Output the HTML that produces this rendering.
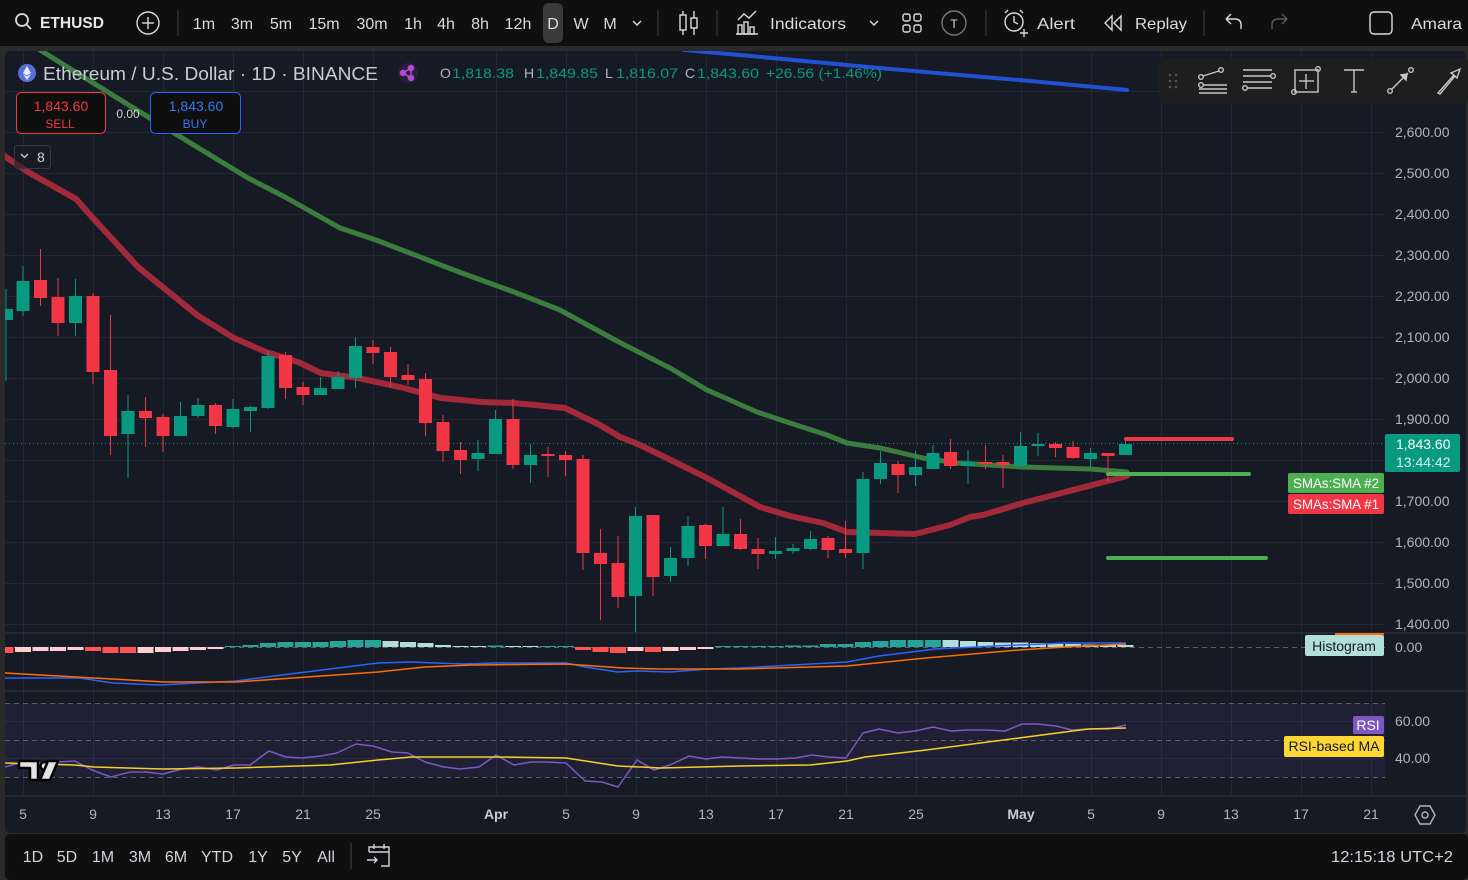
<!DOCTYPE html>
<html><head><meta charset="utf-8"><style>
html,body{margin:0;padding:0;background:#2a2a2a;width:1468px;height:880px;overflow:hidden}
svg{display:block}
text{font-family:"Liberation Sans",sans-serif}
</style></head><body>
<svg width="1468" height="880" viewBox="0 0 1468 880" xmlns="http://www.w3.org/2000/svg">
<defs>
<clipPath id="pane"><rect x="5" y="51" width="1380" height="582"/></clipPath>
<clipPath id="all"><rect x="5" y="51" width="1380" height="745"/></clipPath>
</defs>
<rect x="0" y="0" width="1468" height="880" fill="#2a2a2a"/>
<rect x="0" y="0" width="1468" height="46" fill="#0f0f0f"/>
<rect x="5" y="51" width="1461" height="782" rx="5" fill="#161a25"/>
<rect x="5" y="834" width="1463" height="46" rx="5" fill="#0f0f0f"/>

<!-- grid -->
<g stroke="#232733" stroke-width="1">
<line x1="5" y1="91.5" x2="1385" y2="91.5"/><line x1="5" y1="132.5" x2="1385" y2="132.5"/><line x1="5" y1="173.5" x2="1385" y2="173.5"/><line x1="5" y1="214.5" x2="1385" y2="214.5"/><line x1="5" y1="255.5" x2="1385" y2="255.5"/><line x1="5" y1="296.5" x2="1385" y2="296.5"/><line x1="5" y1="337.5" x2="1385" y2="337.5"/><line x1="5" y1="378.5" x2="1385" y2="378.5"/><line x1="5" y1="419.5" x2="1385" y2="419.5"/><line x1="5" y1="460.5" x2="1385" y2="460.5"/><line x1="5" y1="501.5" x2="1385" y2="501.5"/><line x1="5" y1="542.5" x2="1385" y2="542.5"/><line x1="5" y1="583.5" x2="1385" y2="583.5"/><line x1="5" y1="624.5" x2="1385" y2="624.5"/>
<line x1="5" y1="721.5" x2="1385" y2="721.5"/><line x1="5" y1="758.5" x2="1385" y2="758.5"/>
<line x1="23.5" y1="51" x2="23.5" y2="796"/><line x1="93.5" y1="51" x2="93.5" y2="796"/><line x1="163.5" y1="51" x2="163.5" y2="796"/><line x1="233.5" y1="51" x2="233.5" y2="796"/><line x1="303.5" y1="51" x2="303.5" y2="796"/><line x1="373.5" y1="51" x2="373.5" y2="796"/><line x1="496.5" y1="51" x2="496.5" y2="796"/><line x1="566.5" y1="51" x2="566.5" y2="796"/><line x1="636.5" y1="51" x2="636.5" y2="796"/><line x1="706.5" y1="51" x2="706.5" y2="796"/><line x1="776.5" y1="51" x2="776.5" y2="796"/><line x1="846.5" y1="51" x2="846.5" y2="796"/><line x1="916.5" y1="51" x2="916.5" y2="796"/><line x1="1021.5" y1="51" x2="1021.5" y2="796"/><line x1="1091.5" y1="51" x2="1091.5" y2="796"/><line x1="1161.5" y1="51" x2="1161.5" y2="796"/><line x1="1231.5" y1="51" x2="1231.5" y2="796"/><line x1="1301.5" y1="51" x2="1301.5" y2="796"/><line x1="1371.5" y1="51" x2="1371.5" y2="796"/>
</g>
<!-- pane separators -->
<g stroke="#2a2e39" stroke-width="1.5">
<line x1="5" y1="633" x2="1466" y2="633"/><line x1="5" y1="691" x2="1466" y2="691"/><line x1="5" y1="796" x2="1466" y2="796"/>
</g>

<!-- RSI band -->
<rect x="5" y="703" width="1380" height="74" fill="#7e57c2" fill-opacity="0.1"/>
<g stroke="#5d606b" stroke-dasharray="5,4" stroke-width="1">
<line x1="5" y1="703.5" x2="1385" y2="703.5"/><line x1="5" y1="740.5" x2="1385" y2="740.5"/><line x1="5" y1="777.5" x2="1385" y2="777.5"/>
<line x1="5" y1="647.5" x2="1385" y2="647.5"/>
</g>

<g clip-path="url(#pane)">
<!-- SMA lines -->
<polyline fill="none" stroke="#2151d3" stroke-width="4" stroke-linecap="round" stroke-linejoin="round" points="684,50 740,55 879,68 1019,80 1127,90"/>
<polyline fill="none" stroke="#3a7d3d" stroke-width="5" stroke-linecap="round" stroke-linejoin="round" points="40,50 174,133 248,178 285,197 340,228 376,240 459,272 514,292 560,310 615,340 670,368 707,390 723,397 757,412 790,423 827,435 847,443 880,448 923,458 957,463 1023,467 1090,469 1127,472"/>
<polyline fill="none" stroke="#a2293a" stroke-width="6" stroke-linecap="round" stroke-linejoin="round" points="3,155 28,172 60,190 76,199 92,217 138,267 197,315 234,338 266,352 298,362 321,373 358,378 404,388 441,398 482,402 514,403 565,408 600,425 620,437 640,445 687,468 707,478 760,507 790,516 823,523 847,532 915,534 950,525 970,517 983,515 1023,503 1073,490 1127,476"/>

<!-- green candles -->
<g fill="#089981">
<rect x="5" y="309" width="8" height="11"/><rect x="5.5" y="289" width="1" height="92"/>
<rect x="16.5" y="281" width="13" height="30"/><rect x="22.5" y="266" width="1" height="50"/>
<rect x="69" y="296" width="13" height="27"/><rect x="75" y="279" width="1" height="57"/>
<rect x="121.5" y="411" width="13" height="23"/><rect x="127.5" y="395" width="1" height="83"/>
<rect x="174" y="416" width="13" height="20"/><rect x="180" y="402" width="1" height="34"/>
<rect x="191.5" y="405" width="13" height="11"/><rect x="197.5" y="398" width="1" height="20"/>
<rect x="226.5" y="409" width="13" height="18"/><rect x="232.5" y="399" width="1" height="29"/>
<rect x="244" y="407" width="13" height="4"/><rect x="250" y="406" width="1" height="26"/>
<rect x="261.5" y="356" width="13" height="52"/><rect x="267.5" y="351" width="1" height="58"/>
<rect x="314" y="388" width="13" height="7"/><rect x="320" y="377" width="1" height="18"/>
<rect x="331.5" y="377" width="13" height="12"/><rect x="337.5" y="371" width="1" height="18"/>
<rect x="349" y="346" width="13" height="32"/><rect x="355" y="337" width="1" height="51"/>
<rect x="471.5" y="453" width="13" height="6"/><rect x="477.5" y="440" width="1" height="31"/>
<rect x="489" y="419" width="13" height="35"/><rect x="495" y="410" width="1" height="44"/>
<rect x="524" y="455" width="13" height="10"/><rect x="530" y="444" width="1" height="39"/>
<rect x="629" y="516" width="13" height="80"/><rect x="635" y="507" width="1" height="125"/>
<rect x="664" y="558" width="13" height="18"/><rect x="670" y="547" width="1" height="35"/>
<rect x="681.5" y="526" width="13" height="32"/><rect x="687.5" y="516" width="1" height="50"/>
<rect x="716.5" y="534" width="13" height="12"/><rect x="722.5" y="507" width="1" height="39"/>
<rect x="769" y="551" width="13" height="3"/><rect x="775" y="537" width="1" height="22"/>
<rect x="786.5" y="548" width="13" height="3"/><rect x="792.5" y="544" width="1" height="10"/>
<rect x="804" y="539" width="13" height="10"/><rect x="810" y="531" width="1" height="19"/>
<rect x="856.5" y="479" width="13" height="74"/><rect x="862.5" y="472" width="1" height="97"/>
<rect x="874" y="463" width="13" height="16"/><rect x="880" y="451" width="1" height="33"/>
<rect x="909" y="467" width="13" height="8"/><rect x="915" y="451" width="1" height="35"/>
<rect x="926.5" y="453" width="13" height="16"/><rect x="932.5" y="445" width="1" height="24"/>
<rect x="961.5" y="462" width="13" height="4"/><rect x="967.5" y="450" width="1" height="34"/>
<rect x="1014" y="446" width="13" height="20"/><rect x="1020" y="432" width="1" height="34"/>
<rect x="1031.5" y="444" width="13" height="2"/><rect x="1037.5" y="433" width="1" height="23"/>
<rect x="1084" y="453" width="13" height="6"/><rect x="1090" y="448" width="1" height="20"/>
<rect x="1119" y="444" width="13" height="11"/><rect x="1125" y="440" width="1" height="15"/>
</g>
<!-- red candles -->
<g fill="#f23645">
<rect x="34" y="280" width="13" height="18"/><rect x="40" y="249" width="1" height="57"/>
<rect x="51.5" y="297" width="13" height="26"/><rect x="57.5" y="278" width="1" height="58"/>
<rect x="86.5" y="296" width="13" height="76"/><rect x="92.5" y="293" width="1" height="91"/>
<rect x="104" y="370" width="13" height="66"/><rect x="110" y="315" width="1" height="140"/>
<rect x="139" y="411" width="13" height="7"/><rect x="145" y="397" width="1" height="50"/>
<rect x="156.5" y="417" width="13" height="19"/><rect x="162.5" y="414" width="1" height="38"/>
<rect x="209" y="405" width="13" height="21"/><rect x="215" y="403" width="1" height="31"/>
<rect x="279" y="355" width="13" height="33"/><rect x="285" y="352" width="1" height="47"/>
<rect x="296.5" y="387" width="13" height="8"/><rect x="302.5" y="382" width="1" height="23"/>
<rect x="366.5" y="347" width="13" height="6"/><rect x="372.5" y="340" width="1" height="24"/>
<rect x="384" y="352" width="13" height="25"/><rect x="390" y="347" width="1" height="40"/>
<rect x="401.5" y="375" width="13" height="5"/><rect x="407.5" y="364" width="1" height="21"/>
<rect x="419" y="379" width="13" height="44"/><rect x="425" y="373" width="1" height="63"/>
<rect x="436.5" y="422" width="13" height="29"/><rect x="442.5" y="415" width="1" height="47"/>
<rect x="454" y="450" width="13" height="10"/><rect x="460" y="442" width="1" height="32"/>
<rect x="506.5" y="419" width="13" height="46"/><rect x="512.5" y="399" width="1" height="70"/>
<rect x="541.5" y="454" width="13" height="2"/><rect x="547.5" y="447" width="1" height="30"/>
<rect x="559" y="455" width="13" height="5"/><rect x="565" y="451" width="1" height="25"/>
<rect x="576.5" y="459" width="13" height="94"/><rect x="582.5" y="455" width="1" height="115"/>
<rect x="594" y="553" width="13" height="11"/><rect x="600" y="529" width="1" height="91"/>
<rect x="611.5" y="563" width="13" height="34"/><rect x="617.5" y="536" width="1" height="72"/>
<rect x="646.5" y="515" width="13" height="62"/><rect x="652.5" y="515" width="1" height="81"/>
<rect x="699" y="525" width="13" height="21"/><rect x="705" y="524" width="1" height="35"/>
<rect x="734" y="534" width="13" height="15"/><rect x="740" y="519" width="1" height="31"/>
<rect x="751.5" y="549" width="13" height="5"/><rect x="757.5" y="538" width="1" height="31"/>
<rect x="821.5" y="538" width="13" height="12"/><rect x="827.5" y="536" width="1" height="22"/>
<rect x="839" y="549" width="13" height="4"/><rect x="845" y="521" width="1" height="37"/>
<rect x="891.5" y="464" width="13" height="11"/><rect x="897.5" y="461" width="1" height="32"/>
<rect x="944" y="452" width="13" height="14"/><rect x="950" y="439" width="1" height="30"/>
<rect x="979" y="462" width="13" height="2"/><rect x="985" y="445" width="1" height="24"/>
<rect x="996.5" y="462" width="13" height="3"/><rect x="1002.5" y="455" width="1" height="33"/>
<rect x="1049" y="444" width="13" height="4"/><rect x="1055" y="442" width="1" height="15"/>
<rect x="1066.5" y="447" width="13" height="11"/><rect x="1072.5" y="441" width="1" height="18"/>
<rect x="1101.5" y="453" width="13" height="3"/><rect x="1107.5" y="453" width="1" height="28"/>
</g>

<!-- current price dotted line -->
<line x1="5" y1="443.5" x2="1385" y2="443.5" stroke="#089981" stroke-width="1" stroke-dasharray="1,3"/>

<!-- drawn horizontal lines -->
<g stroke-width="4" stroke-linecap="round">
<line x1="1126" y1="439" x2="1232" y2="439" stroke="#f23645"/>
<line x1="1108" y1="474" x2="1249" y2="474" stroke="#4caf50"/>
<line x1="1108" y1="558" x2="1266" y2="558" stroke="#4caf50"/>
</g>
</g>

<!-- MACD histogram -->
<g clip-path="url(#all)">
<g fill="#ff5252">
<rect x="-2.5" y="647" width="16" height="6"/><rect x="85" y="647" width="16" height="4"/><rect x="102.5" y="647" width="16" height="6"/><rect x="120" y="647" width="16" height="6"/>
<rect x="575" y="647" width="16" height="3"/><rect x="592.5" y="647" width="16" height="5"/><rect x="610" y="647" width="16" height="6"/><rect x="645" y="647" width="16" height="5"/>
</g>
<g fill="#ffcdd2">
<rect x="15" y="647" width="16" height="5"/><rect x="32.5" y="647" width="16" height="4"/><rect x="50" y="647" width="16" height="4"/><rect x="67.5" y="647" width="16" height="3"/>
<rect x="137.5" y="647" width="16" height="6"/><rect x="155" y="647" width="16" height="5"/><rect x="172.5" y="647" width="16" height="4"/><rect x="190" y="647" width="16" height="3"/><rect x="207.5" y="647" width="16" height="2"/>
<rect x="627.5" y="647" width="16" height="4"/><rect x="662.5" y="647" width="16" height="4"/><rect x="680" y="647" width="16" height="3"/><rect x="697.5" y="647" width="16" height="2"/>
</g>
<g fill="#26a69a">
<rect x="225" y="646" width="16" height="1"/><rect x="242.5" y="645" width="16" height="2"/><rect x="260" y="643" width="16" height="4"/><rect x="277.5" y="642" width="16" height="5"/><rect x="295" y="642" width="16" height="5"/><rect x="312.5" y="642" width="16" height="5"/><rect x="330" y="641" width="16" height="6"/><rect x="347.5" y="640" width="16" height="7"/><rect x="365" y="640" width="16" height="7"/>
<rect x="487.5" y="645.5" width="16" height="1.5"/><rect x="540" y="646" width="16" height="1"/><rect x="557.5" y="646" width="16" height="1"/>
<rect x="715" y="646" width="16" height="1"/><rect x="732.5" y="646" width="16" height="1"/><rect x="750" y="646" width="16" height="1"/><rect x="767.5" y="646" width="16" height="1"/><rect x="785" y="645.5" width="16" height="1.5"/><rect x="802.5" y="645.5" width="16" height="1.5"/><rect x="820" y="644" width="16" height="3"/><rect x="837.5" y="644" width="16" height="3"/><rect x="855" y="642" width="16" height="5"/><rect x="872.5" y="641" width="16" height="6"/><rect x="890" y="640" width="16" height="7"/><rect x="907.5" y="640" width="16" height="7"/><rect x="925" y="640" width="16" height="7"/>
</g>
<g fill="#b2dfdb">
<rect x="382.5" y="641" width="16" height="6"/><rect x="400" y="642" width="16" height="5"/><rect x="417.5" y="643" width="16" height="4"/><rect x="435" y="645" width="16" height="2"/><rect x="452.5" y="646" width="16" height="1"/><rect x="470" y="646" width="16" height="1"/><rect x="505" y="646" width="16" height="1"/><rect x="522.5" y="646" width="16" height="1"/>
<rect x="942.5" y="640" width="16" height="7"/><rect x="960" y="641" width="16" height="6"/><rect x="977.5" y="642" width="16" height="5"/><rect x="995" y="642.5" width="16" height="4.5"/><rect x="1012.5" y="642.5" width="16" height="4.5"/><rect x="1030" y="643" width="16" height="4"/><rect x="1047.5" y="644" width="16" height="3"/><rect x="1065" y="644" width="16" height="3"/><rect x="1082.5" y="644.5" width="16" height="2.5"/><rect x="1100" y="644.5" width="16" height="2.5"/><rect x="1117.5" y="645" width="16" height="2"/>
</g>
<!-- MACD lines -->
<polyline fill="none" stroke="#2962ff" stroke-width="1.5" stroke-linejoin="round" points="5,678 80,678 113,683 160,685 236,681 274,676 330,669 378,663 411,662 462,664 496,663 566,663 585,667 618,672 637,671 670,672 708,669 740,668 847,662 879,656 935,649 995,646 1065,643 1126,643"/>
<polyline fill="none" stroke="#ff6d00" stroke-width="1.5" stroke-linejoin="round" points="5,673 94,678 165,682 236,682 307,677 378,672 425,667 472,665 566,664 623,668 661,669 740,669 847,666 926,658 1019,650 1065,647 1126,644"/>
<!-- RSI lines -->
<polyline fill="none" stroke="#7e57c2" stroke-width="1.5" stroke-linejoin="round" points="5,767 19,763 40,763 75,761 92,770 111,777 130,772 146,772 163,774 182,769 198,767 217,770 234,765 250,765 269,751 286,757 302,758 321,756 337,753 356,744 373,746 392,752 408,753 425,762 444,767 460,769 479,767 496,755 514,765 531,762 547,762 566,763 585,781 602,782 618,787 637,760 654,770 670,765 689,756 706,759 722,757 740,758 759,759 777,759 795,758 812,755 828,757 846,758 863,733 879,729 898,733 915,731 933,727 951,731 967,730 986,730 1005,731 1022,724 1037,724 1056,726 1072,730 1091,729 1109,729 1126,725"/>
<polyline fill="none" stroke="#f5d029" stroke-width="1.5" stroke-linejoin="round" points="5,763 75,765 94,767 163,769 236,768 330,765 378,760 411,757 496,757 566,758 618,766 661,768 740,766 810,765 847,761 865,757 926,750 1019,738 1088,729 1126,728"/>
</g>

<!-- TV logo -->
<g stroke="#000" stroke-width="2.5" fill="#e3e3e3" stroke-linejoin="round">
<path d="M19,761 L38,761 L38,780 L30,780 L30,768 L19,768 Z"/>
<circle cx="44.5" cy="766" r="4"/>
<path d="M48,761 L58,761 L50,780 L40,780 Z"/>
</g>

<!-- Legend -->
<circle cx="27" cy="73" r="9" fill="#5a6fd6"/>
<path d="M27,66 L31,73 L27,75.5 L23,73 Z M27,76.5 L31,74 L27,80 L23,74 Z" fill="#e8ecff"/>
<text x="43" y="80" font-size="18" fill="#c9ccd4" textLength="335" lengthAdjust="spacingAndGlyphs">Ethereum / U.S. Dollar · 1D · BINANCE</text>
<circle cx="408" cy="73" r="10" fill="#2a1f3a"/>
<g fill="#b549d6" stroke="#b549d6" stroke-width="1.5"><circle cx="403" cy="73" r="2.5"/><circle cx="411" cy="68" r="2.5"/><circle cx="411" cy="78" r="2.5"/><line x1="403" y1="73" x2="411" y2="68"/><line x1="403" y1="73" x2="411" y2="78"/><line x1="411" y1="68" x2="411" y2="78"/></g>
<g font-size="14">
<text x="440" y="78" fill="#b2b5be">O</text><text x="452" y="78" fill="#089981" textLength="62" lengthAdjust="spacingAndGlyphs">1,818.38</text>
<text x="524" y="78" fill="#b2b5be">H</text><text x="536" y="78" fill="#089981" textLength="62" lengthAdjust="spacingAndGlyphs">1,849.85</text>
<text x="605" y="78" fill="#b2b5be">L</text><text x="616" y="78" fill="#089981" textLength="62" lengthAdjust="spacingAndGlyphs">1,816.07</text>
<text x="685" y="78" fill="#b2b5be">C</text><text x="697" y="78" fill="#089981" textLength="62" lengthAdjust="spacingAndGlyphs">1,843.60</text>
<text x="766" y="78" fill="#089981" textLength="116" lengthAdjust="spacingAndGlyphs">+26.56 (+1.46%)</text>
</g>

<!-- sell/buy -->
<rect x="16.5" y="92.5" width="89" height="41" rx="5" fill="#0f0f0f" stroke="#f23645"/>
<text x="61" y="111" font-size="14" fill="#f23645" text-anchor="middle">1,843.60</text>
<text x="60" y="128" font-size="12" fill="#f23645" text-anchor="middle">SELL</text>
<text x="128" y="118" font-size="12" fill="#d1d4dc" text-anchor="middle">0.00</text>
<rect x="150.5" y="92.5" width="90" height="41" rx="5" fill="#0f0f0f" stroke="#2962ff"/>
<text x="196" y="111" font-size="14" fill="#3179f5" text-anchor="middle">1,843.60</text>
<text x="195" y="128" font-size="12" fill="#3179f5" text-anchor="middle">BUY</text>
<rect x="14.5" y="145.5" width="36" height="23" rx="3" fill="#161a25" fill-opacity="0.6" stroke="#363a45"/>
<path d="M21,154 L24.5,157.5 L28,154" fill="none" stroke="#d1d4dc" stroke-width="1.3"/>
<text x="37" y="162" font-size="14" fill="#d1d4dc">8</text>

<!-- drawing toolbar -->
<rect x="1158" y="58" width="312" height="46" rx="8" fill="#1e1e1e"/>
<g fill="#555"><circle cx="1170" cy="75" r="1.3"/><circle cx="1176" cy="75" r="1.3"/><circle cx="1170" cy="81" r="1.3"/><circle cx="1176" cy="81" r="1.3"/><circle cx="1170" cy="87" r="1.3"/><circle cx="1176" cy="87" r="1.3"/></g>
<g fill="none" stroke="#c8c8c8" stroke-width="1.4">
<circle cx="1201" cy="77" r="2.3"/><circle cx="1201" cy="85" r="2.3"/><circle cx="1221" cy="70" r="2.3"/><line x1="1203" y1="76" x2="1219" y2="71"/><line x1="1204" y1="85" x2="1227" y2="85"/><line x1="1199" y1="89" x2="1227" y2="89"/><line x1="1199" y1="93" x2="1227" y2="93"/>
<line x1="1243" y1="70" x2="1272" y2="70"/><line x1="1243" y1="76" x2="1271" y2="76"/><circle cx="1273" cy="76" r="2.3"/><line x1="1243" y1="82" x2="1272" y2="82"/><line x1="1247" y1="88" x2="1272" y2="88"/><circle cx="1245" cy="88" r="2.3"/>
<rect x="1295" y="70" width="23" height="22"/><line x1="1306" y1="74" x2="1306" y2="89"/><line x1="1299" y1="81" x2="1314" y2="81"/><circle cx="1318" cy="69" r="2.3"/><circle cx="1294" cy="92" r="2.3"/>
<line x1="1344" y1="70" x2="1364" y2="70"/><line x1="1354" y1="70" x2="1354" y2="92"/><line x1="1351" y1="92" x2="1357" y2="92"/>
<circle cx="1390" cy="91" r="2.3"/><circle cx="1411" cy="70" r="2.3"/><line x1="1392" y1="89" x2="1408" y2="73"/><path d="M1401,75 L1407,74 L1406,80 Z" fill="#c8c8c8"/>
<path d="M1438,93 L1454,75 L1451,73 L1460,69 L1457,78 L1455,76 L1440,94 Z"/>
</g>

<!-- price axis -->
<g font-size="14" fill="#b2b5be">
<text x="1395" y="137">2,600.00</text><text x="1395" y="178">2,500.00</text><text x="1395" y="219">2,400.00</text><text x="1395" y="260">2,300.00</text><text x="1395" y="301">2,200.00</text><text x="1395" y="342">2,100.00</text><text x="1395" y="383">2,000.00</text><text x="1395" y="424">1,900.00</text><text x="1395" y="506">1,700.00</text><text x="1395" y="547">1,600.00</text><text x="1395" y="588">1,500.00</text><text x="1395" y="629">1,400.00</text>
<text x="1395" y="652">0.00</text><text x="1395" y="726">60.00</text><text x="1395" y="763">40.00</text>
</g>
<rect x="1385" y="434" width="75" height="38" rx="2" fill="#089981"/>
<text x="1396" y="449" font-size="14" fill="#ffffff">1,843.60</text>
<text x="1396" y="467" font-size="14" fill="#d7efea">13:44:42</text>
<rect x="1288" y="473" width="96" height="20" rx="2" fill="#4caf50"/>
<text x="1336" y="488" font-size="13.5" fill="#ffffff" text-anchor="middle" textLength="86" lengthAdjust="spacingAndGlyphs">SMAs:SMA #2</text>
<rect x="1288" y="494" width="96" height="20" rx="2" fill="#f23645"/>
<text x="1336" y="509" font-size="13.5" fill="#ffffff" text-anchor="middle" textLength="86" lengthAdjust="spacingAndGlyphs">SMAs:SMA #1</text>
<rect x="1335" y="633" width="49" height="2" fill="#ff6d00"/>
<rect x="1305" y="635" width="79" height="21" rx="2" fill="#b2dfdb"/>
<text x="1344" y="651" font-size="14" fill="#131722" text-anchor="middle">Histogram</text>
<rect x="1353" y="716" width="31" height="18" rx="2" fill="#7e57c2"/>
<text x="1368" y="730" font-size="14" fill="#ffffff" text-anchor="middle">RSI</text>
<rect x="1284" y="736" width="100" height="21" rx="2" fill="#fdd835"/>
<text x="1334" y="751" font-size="14" fill="#131722" text-anchor="middle">RSI-based MA</text>

<!-- time axis -->
<g font-size="14" fill="#b2b5be" text-anchor="middle">
<text x="23" y="819">5</text><text x="93" y="819">9</text><text x="163" y="819">13</text><text x="233" y="819">17</text><text x="303" y="819">21</text><text x="373" y="819">25</text>
<text x="496" y="819" font-weight="bold" fill="#c9ccd4">Apr</text>
<text x="566" y="819">5</text><text x="636" y="819">9</text><text x="706" y="819">13</text><text x="776" y="819">17</text><text x="846" y="819">21</text><text x="916" y="819">25</text>
<text x="1021" y="819" font-weight="bold" fill="#c9ccd4">May</text>
<text x="1091" y="819">5</text><text x="1161" y="819">9</text><text x="1231" y="819">13</text><text x="1301" y="819">17</text><text x="1371" y="819">21</text>
</g>
<g fill="none" stroke="#b2b5be" stroke-width="1.4"><path d="M1420,806 L1430,806 L1435,815 L1430,824 L1420,824 L1415,815 Z"/><circle cx="1425" cy="815" r="3"/></g>

<!-- top toolbar -->
<g fill="none" stroke="#dbdbdb" stroke-width="1.8"><circle cx="22" cy="20" r="6"/><line x1="26.5" y1="24.5" x2="31" y2="29"/></g>
<text x="40" y="28" font-size="16" font-weight="bold" fill="#e6e6e6" textLength="64" lengthAdjust="spacingAndGlyphs">ETHUSD</text>
<g fill="none" stroke="#dbdbdb" stroke-width="1.4"><circle cx="148" cy="23" r="11"/><line x1="142" y1="23" x2="154" y2="23"/><line x1="148" y1="17" x2="148" y2="29"/></g>
<g stroke="#2e2e2e" stroke-width="1.5"><line x1="178" y1="10" x2="178" y2="36"/><line x1="658" y1="10" x2="658" y2="36"/><line x1="717" y1="10" x2="717" y2="36"/><line x1="986" y1="10" x2="986" y2="36"/><line x1="1204" y1="10" x2="1204" y2="36"/></g>
<rect x="543" y="3" width="20" height="40" rx="6" fill="#3a3a3a"/>
<g font-size="16" fill="#dbdbdb" text-anchor="middle">
<text x="204" y="29">1m</text><text x="242" y="29">3m</text><text x="281" y="29">5m</text><text x="324" y="29">15m</text><text x="372" y="29">30m</text><text x="413" y="29">1h</text><text x="446" y="29">4h</text><text x="480" y="29">8h</text><text x="518" y="29">12h</text><text x="553" y="29">D</text><text x="581" y="29">W</text><text x="610" y="29">M</text>
</g>
<g fill="none" stroke="#dbdbdb" stroke-width="1.4">
<path d="M633,21 L637,25 L641,21"/>
<line x1="683" y1="11" x2="683" y2="35"/><rect x="680" y="15" width="6" height="15" fill="#0f0f0f"/><line x1="694" y1="11" x2="694" y2="35"/><rect x="691" y="18" width="6" height="10" fill="#0f0f0f"/>
<path d="M738,20 L744,14 L749,18 L756,11"/><rect x="738" y="25" width="4" height="9"/><rect x="744" y="22" width="4" height="12"/><rect x="750" y="27" width="4" height="7"/><line x1="736" y1="34" x2="758" y2="34"/>
<path d="M870,21 L874,25 L878,21"/>
<rect x="903" y="14" width="7" height="7" rx="2"/><rect x="914" y="14" width="7" height="7" rx="2"/><rect x="903" y="25" width="7" height="7" rx="2"/><rect x="914" y="25" width="7" height="7" rx="2"/>
<circle cx="954" cy="23" r="12" stroke="#777"/>
<circle cx="1014" cy="22" r="9"/><path d="M1014,16 L1014,22 L1018,24"/><path d="M1005,13 L1008,10 M1023,13 L1020,10"/><path d="M1020,33 L1028,33 M1024,29 L1024,37"/>
<path d="M1112,16 L1105,23 L1112,30 Z M1121,16 L1114,23 L1121,30 Z"/>
<path d="M1226,19 L1231,14 M1226,19 L1231,24 M1226,19 L1235,19 Q1241,19 1241,25 L1241,29"/>
<rect x="1370" y="12" width="22" height="22" rx="4"/>
</g>
<text x="954" y="28" font-size="12" fill="#dbdbdb" text-anchor="middle">T</text>
<g fill="none" stroke="#5a5a5a" stroke-width="1.4"><path d="M1287,19 L1282,14 M1287,19 L1282,24 M1287,19 L1278,19 Q1272,19 1272,25 L1272,29"/></g>
<g font-size="16" fill="#dbdbdb">
<text x="770" y="29" textLength="76" lengthAdjust="spacingAndGlyphs">Indicators</text>
<text x="1037" y="29" textLength="38" lengthAdjust="spacingAndGlyphs">Alert</text>
<text x="1135" y="29" textLength="52" lengthAdjust="spacingAndGlyphs">Replay</text>
<text x="1411" y="29" textLength="51" lengthAdjust="spacingAndGlyphs">Amara</text>
</g>

<!-- bottom bar -->
<g font-size="16" fill="#d1d4dc" text-anchor="middle">
<text x="33" y="862">1D</text><text x="67" y="862">5D</text><text x="103" y="862">1M</text><text x="140" y="862">3M</text><text x="176" y="862">6M</text><text x="217" y="862">YTD</text><text x="258" y="862">1Y</text><text x="292" y="862">5Y</text><text x="326" y="862">All</text>
</g>
<line x1="351" y1="843" x2="351" y2="869" stroke="#333" stroke-width="1.5"/>
<g fill="none" stroke="#d1d4dc" stroke-width="1.4"><path d="M369,852 L369,847 L389,847 L389,866 L381,866"/><line x1="369" y1="852" x2="389" y2="852"/><line x1="374" y1="844" x2="374" y2="849"/><line x1="384" y1="844" x2="384" y2="849"/><path d="M367,860 L377,860 M374,857 L377,860 L374,863"/></g>
<text x="1453" y="862" font-size="16" fill="#d1d4dc" text-anchor="end" textLength="122" lengthAdjust="spacingAndGlyphs">12:15:18 UTC+2</text>
</svg>
</body></html>
